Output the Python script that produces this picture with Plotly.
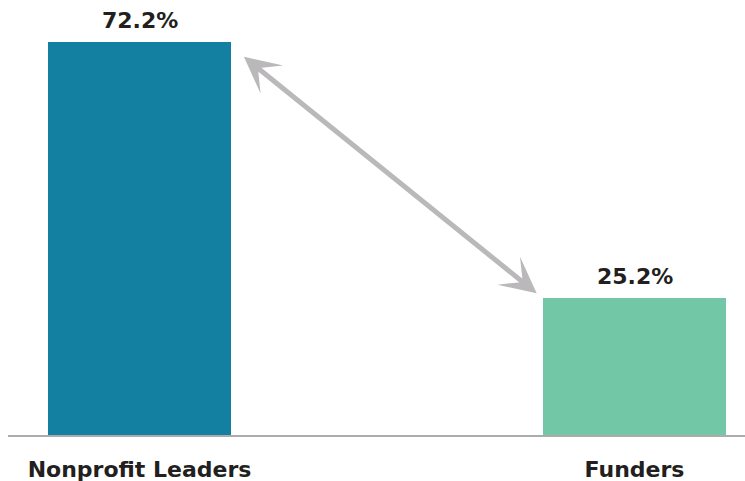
import plotly.graph_objects as go

categories = ["Nonprofit Leaders", "Funders"]
values = [72.2, 25.2]
value_labels = ["72.2%", "25.2%"]
bar_colors = ["#1380a1", "#72c7a6"]

x_pos = list(range(len(categories)))
bar_width = 0.37

fig = go.Figure()
fig.add_trace(go.Bar(
    x=x_pos, y=values, width=bar_width,
    marker=dict(color=bar_colors, line=dict(width=0)),
    hoverinfo="skip", showlegend=False,
))

font_family = "DejaVu Sans"
text_color = "#231f20"

for xi, v, lab in zip(x_pos, values, value_labels):
    fig.add_annotation(
        x=xi, y=v, text=f"<b>{lab}</b>", showarrow=False,
        xanchor="center", yanchor="bottom", yshift=7,
        font=dict(family=font_family, size=22, color=text_color),
    )

# double-headed arrow between the two bars
half = bar_width / 2
fig.add_annotation(
    x=x_pos[1] - half - 0.0126, y=values[1] + 0.83,
    ax=x_pos[0] + half + 0.0228, ay=values[0] - 2.5,
    xref="x", yref="y", axref="x", ayref="y",
    text="", showarrow=True,
    arrowside="end+start",
    arrowhead=3, startarrowhead=3,
    arrowsize=1.2, startarrowsize=1.2,
    arrowwidth=5, arrowcolor="#bab8ba",
    standoff=0, startstandoff=0,
)

fig.update_layout(
    width=745, height=481,
    margin=dict(l=8, r=0, t=0, b=46),
    paper_bgcolor="white", plot_bgcolor="white",
    bargap=0,
    xaxis=dict(
        range=[-0.2657, 1.2232],
        tickmode="array", tickvals=x_pos,
        ticktext=[f"<b>{c}</b>" for c in categories],
        tickfont=dict(family=font_family, size=22, color=text_color),
        showgrid=False, zeroline=False,
        showline=True, linecolor="#acacac", linewidth=2,
        ticks="", ticklabelstandoff=14,
        fixedrange=True,
    ),
    yaxis=dict(
        range=[0, 79.92], visible=False, showgrid=False, zeroline=False,
        fixedrange=True,
    ),
)

fig.write_html(
    "out.html",
    config={"displayModeBar": False},
    post_script="document.body.style.margin='0';document.body.style.overflow='hidden';",
)
